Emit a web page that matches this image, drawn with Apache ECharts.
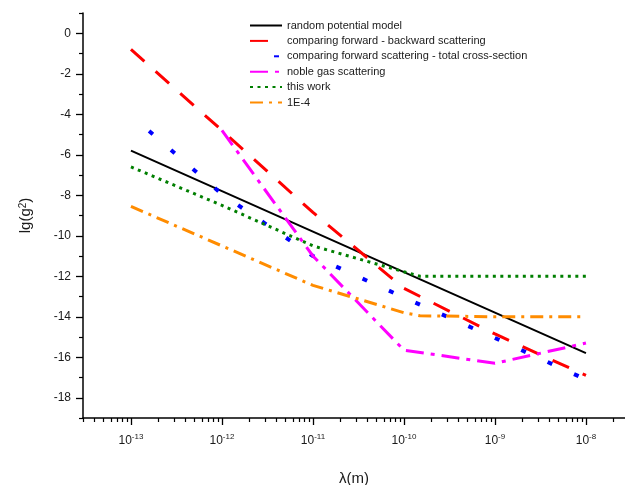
<!DOCTYPE html>
<html>
<head>
<meta charset="utf-8">
<script src="https://cdn.jsdelivr.net/npm/echarts@6/dist/echarts.min.js"></script>
<style>
  html, body { margin: 0; padding: 0; background: #fff; }
  #chart { width: 625px; height: 485px; }
</style>
</head>
<body>
<div id="chart"></div>
<script>
// Wavelength grids (m) and lg(g^2) values for each model
const lambdaDecades = [1e-13, 1e-12, 1e-11, 1e-10, 1e-9, 1e-8];
const randomPotential = [-5.8, -7.8, -9.8, -11.8, -13.8, -15.8];
const forwardBackward = [-0.8, -4.8, -8.85, -12.6, -14.85, -16.9];
const forwardTotal = [-4.05, -7.95, -11.0, -13.05, -15.05, -17.1];

const nobleGasLambda = [1e-12, 1e-11, 1e-10, 1e-9, 1e-8];
const nobleGas = [-4.8, -11.0, -15.65, -16.3, -15.3];

const plateauLambda = [1e-13, 1e-12, 1e-11, 1e-10, 1.5e-10, 1e-9, 1e-8];
const thisWork = [-6.6, -8.5, -10.5, -11.78, -12.0, -12.0, -12.0];
const oneEminus4 = [-8.55, -10.5, -12.45, -13.8, -13.95, -14.0, -14.0];

const seriesNames = [
  'random potential model',
  'comparing forward - backward scattering',
  'comparing forward scattering - total cross-section',
  'noble gas scattering',
  'this work',
  '1E-4'
];

// Axis ticks
const xDecadeExponents = [-13, -12, -11, -10, -9, -8];
const yLabelValues = [0, -2, -4, -6, -8, -10, -12, -14, -16, -18];
const yMinorValues = [1, -1, -3, -5, -7, -9, -11, -13, -15, -17, -19];

const xMin = -13.527, xMax = -7.571;
const yMin = -19, yMax = 1;

// log10 of every 2..9 multiple inside the visible range
const xMinorValues = [];
for (let n = -14; n <= -8; n++) {
  for (let k = 2; k <= 9; k++) {
    const v = n + Math.log10(k);
    if (v >= xMin && v <= xMax) xMinorValues.push(v);
  }
}

const pairs = (lams, vals) => lams.map((l, i) => [Math.log10(l), vals[i]]);

const font = 'Liberation Sans, Arial, sans-serif';
const textColor = '#1a1a1a';
const plotBox = { left: 83, right: 0, top: 13, bottom: 67, containLabel: false, outerBoundsMode: 'none' };

function lineSeries(name, data, color, width, dash, dashOffset) {
  return {
    name: name,
    type: 'line',
    xAxisIndex: 0,
    yAxisIndex: 0,
    data: data,
    showSymbol: false,
    symbol: 'none',
    silent: true,
    lineStyle: { color: color, width: width, type: dash, dashOffset: dashOffset || 0, cap: 'butt' },
    itemStyle: { color: color },
    z: 3
  };
}

const chart = echarts.init(document.getElementById('chart'));
chart.setOption({
  animation: false,
  backgroundColor: '#fff',
  // second grid shares the plot box and only carries the minor ticks
  grid: [Object.assign({}, plotBox), Object.assign({}, plotBox)],
  legend: {
    orient: 'vertical',
    left: 249,
    top: 20,
    padding: 0,
    itemWidth: 32,
    itemHeight: 10,
    itemGap: 4.4,
    data: seriesNames,
    itemStyle: { opacity: 0 },
    textStyle: { fontFamily: font, fontSize: 11, color: textColor, lineHeight: 11 }
  },
  xAxis: [
    {
      type: 'value',
      gridIndex: 0,
      min: xMin,
      max: xMax,
      position: 'bottom',
      name: 'λ(m)',
      nameLocation: 'middle',
      nameGap: 53,
      nameTextStyle: { fontFamily: font, fontSize: 15, color: textColor },
      axisLine: { onZero: false, lineStyle: { color: '#000', width: 1.5 } },
      splitLine: { show: false },
      axisTick: { show: true, length: 7, customValues: xDecadeExponents, lineStyle: { color: '#000', width: 1.3 } },
      axisLabel: {
        customValues: xDecadeExponents,
        margin: 15,
        formatter: v => '{b|10}{s|' + Math.round(v) + '}',
        rich: {
          b: { fontFamily: font, fontSize: 12, color: textColor, lineHeight: 14, verticalAlign: 'bottom' },
          s: { fontFamily: font, fontSize: 8, color: textColor, lineHeight: 14, verticalAlign: 'top' }
        }
      }
    },
    {
      type: 'value',
      gridIndex: 1,
      min: xMin,
      max: xMax,
      position: 'bottom',
      axisLine: { show: false, onZero: false },
      splitLine: { show: false },
      axisLabel: { show: false },
      axisTick: { show: true, length: 4, customValues: xMinorValues, lineStyle: { color: '#000', width: 1.2 } }
    }
  ],
  yAxis: [
    {
      type: 'value',
      gridIndex: 0,
      min: yMin,
      max: yMax,
      interval: 1,
      position: 'left',
      name: 'lg(g{s|2})',
      nameLocation: 'middle',
      nameRotate: 90,
      nameGap: 50,
      nameTextStyle: {
        fontFamily: font, fontSize: 15, color: textColor,
        rich: { s: { fontFamily: font, fontSize: 10, color: textColor, verticalAlign: 'top' } }
      },
      axisLine: { show: true, onZero: false, lineStyle: { color: '#000', width: 1.5 } },
      splitLine: { show: false },
      axisTick: { show: true, length: 7, customValues: yLabelValues, lineStyle: { color: '#000', width: 1.3 } },
      axisLabel: {
        customValues: yLabelValues,
        margin: 12,
        fontFamily: font, fontSize: 12, color: textColor
      }
    },
    {
      type: 'value',
      gridIndex: 1,
      min: yMin,
      max: yMax,
      interval: 1,
      position: 'left',
      axisLine: { show: false, onZero: false },
      splitLine: { show: false },
      axisLabel: { show: false },
      axisTick: { show: true, length: 4, customValues: yMinorValues, lineStyle: { color: '#000', width: 1.2 } }
    }
  ],
  series: [
    lineSeries(seriesNames[0], pairs(lambdaDecades, randomPotential), '#000000', 2, 'solid'),
    lineSeries(seriesNames[1], pairs(lambdaDecades, forwardBackward), '#ff0000', 3, [18, 15]),
    lineSeries(seriesNames[2], pairs(lambdaDecades, forwardTotal), '#0000ff', 4, [5, 24], 5),
    lineSeries(seriesNames[3], pairs(nobleGasLambda, nobleGas), '#ff00ff', 3, [18, 7, 4, 7]),
    lineSeries(seriesNames[4], pairs(plateauLambda, thisWork), '#007f00', 3, [3, 4.5]),
    lineSeries(seriesNames[5], pairs(plateauLambda, oneEminus4), '#ff8c00', 3, [13, 6, 3, 6])
  ]
});
</script>
</body>
</html>
